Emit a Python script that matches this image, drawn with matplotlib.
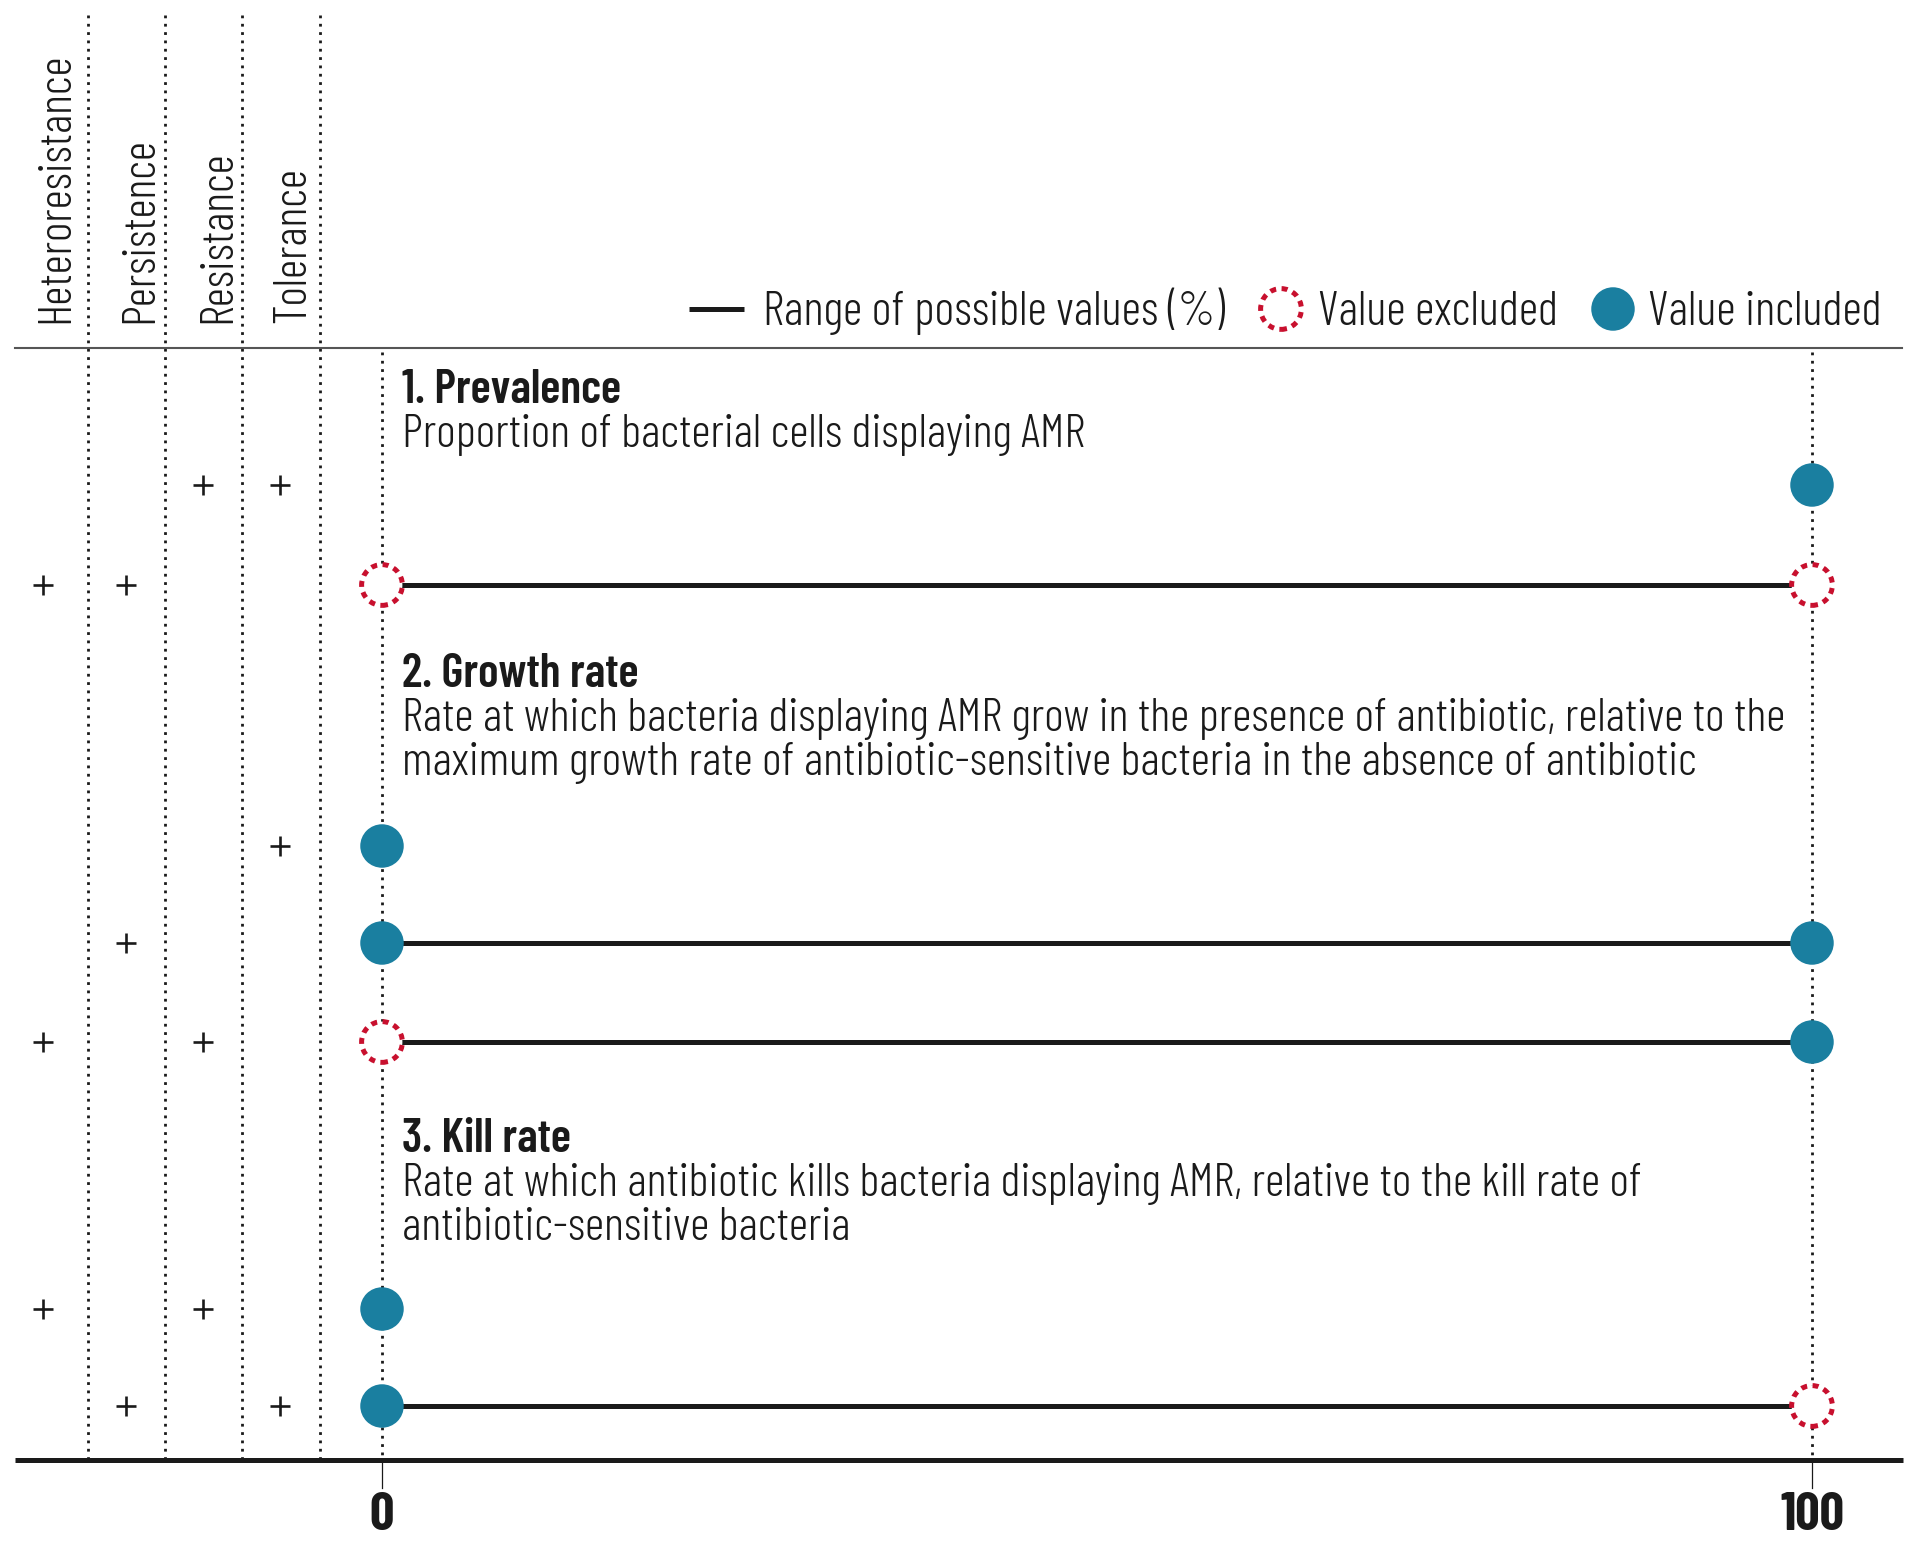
"""Measures of antimicrobial resistance (AMR) phenotypes: which values are allowed."""

import matplotlib
matplotlib.use("Agg")
import matplotlib.pyplot as plt

# ---- data -----------------------------------------------------------------
PHENOTYPES = ["Heteroresistance", "Persistence", "Resistance", "Tolerance"]

MEASURE_TITLES = ["1. Prevalence", "2. Growth rate", "3. Kill rate"]
MEASURE_LINES = [
    ["Proportion of bacterial cells displaying AMR"],
    ["Rate at which bacteria displaying AMR grow in the presence of antibiotic, relative to the",
     "maximum growth rate of antibiotic-sensitive bacteria in the absence of antibiotic"],
    ["Rate at which antibiotic kills bacteria displaying AMR, relative to the kill rate of",
     "antibiotic-sensitive bacteria"],
]

# one entry per row of the chart
ROW_LOW = [100, 0, 0, 0, 0, 0, 0]
ROW_HIGH = [100, 100, 0, 100, 100, 0, 100]
ROW_LOW_INCLUDED = [True, False, True, True, False, True, True]
ROW_HIGH_INCLUDED = [True, False, True, True, True, True, False]
ROW_PHENOTYPES = [
    ["Resistance", "Tolerance"],
    ["Heteroresistance", "Persistence"],
    ["Tolerance"],
    ["Persistence"],
    ["Heteroresistance", "Resistance"],
    ["Heteroresistance", "Resistance"],
    ["Persistence", "Tolerance"],
]

TICKS = [0, 100]
LEGEND_LABELS = ["Range of possible values (%)", "Value excluded", "Value included"]

# ---- layout (pixels of a 1920 x 1543 canvas) ---------------------------------
W, H = 1920, 1543
X0_PX, X100_PX = 382, 1812
ROW_Y = [485, 585, 846, 943, 1042, 1309, 1406]
TITLE_Y = [403, 687, 1152]
LINE_GAP = 44
TEXT_X_PX = 402
COL_EDGES_PX = [88, 165, 242, 320]
COL_PLUS_PX = [43, 126, 203, 280]
COL_LABEL_BASE_PX = [68, 152, 230, 305]
HEADER_Y = 348
AXIS_Y = 1460

BLUE = "#1a7fa0"
RED = "#c8102e"
INK = "#1a1a1a"
FONT = ["Barlow Condensed", "DejaVu Sans"]
BODY_W = 300

plt.rcParams["font.family"] = FONT


def px(p):
    """pixel column -> percent units of the value axis"""
    return (p - X0_PX) / (X100_PX - X0_PX) * 100


fig = plt.figure(figsize=(W / 100, H / 100), dpi=100)
renderer = fig.canvas.get_renderer()


def fit_size(sample, target_px, weight, base=30.0):
    """font size at which `sample` is target_px wide"""
    t = fig.text(0, 0, sample, fontsize=base, fontweight=weight)
    w = t.get_window_extent(renderer).width
    t.remove()
    return base * target_px / w


FS_BODY = fit_size(MEASURE_LINES[1][0], 1383, BODY_W)
FS_TITLE = fit_size(MEASURE_TITLES[1], 237, 600)
FS_LEG = fit_size(LEGEND_LABELS[0], 462, BODY_W)
FS_COL = fit_size(PHENOTYPES[0], 270, BODY_W)
FS_TICK = fit_size("100", 64, 700)

ax = fig.add_axes([0, 0, 1, 1])
ax.set_xlim(px(0), px(W))
ax.set_ylim(H, 0)
ax.axis("off")

DOTS = (0, (1, 2.0))
S_MARK = 980
EXCL = dict(s=S_MARK * 0.88, facecolors="white", edgecolors=RED,
            linewidths=3.6, linestyle=(0, (1.2, 1.1)))

# column separators and header
for xe in COL_EDGES_PX:
    ax.plot([px(xe)] * 2, [15, AXIS_Y], color=INK, lw=2.0, ls=DOTS, zorder=1)
for t in TICKS:
    ax.plot([t, t], [HEADER_Y + 4, AXIS_Y], color=INK, lw=2.0, ls=DOTS, zorder=1)
ax.plot([px(15), px(1902)], [HEADER_Y] * 2, color="#555555", lw=1.5, zorder=2)
ax.plot([px(15), px(1903)], [AXIS_Y] * 2, color=INK, lw=3.6, solid_capstyle="butt", zorder=2)

for name, xb in zip(PHENOTYPES, COL_LABEL_BASE_PX):
    ax.text(px(xb), 323, name, rotation=90, rotation_mode="anchor",
            ha="left", va="baseline", fontsize=FS_COL, fontweight=BODY_W, color=INK)

# measure headings
for title, lines, ty in zip(MEASURE_TITLES, MEASURE_LINES, TITLE_Y):
    ax.text(px(TEXT_X_PX), ty, title, fontsize=FS_TITLE, fontweight=600,
            va="baseline", ha="left", color=INK)
    for i, line in enumerate(lines):
        ax.text(px(TEXT_X_PX), ty + LINE_GAP * (i + 1), line, fontsize=FS_BODY,
                fontweight=BODY_W, va="baseline", ha="left", color=INK)

# rows
for y, lo, hi, lo_in, hi_in, phen in zip(ROW_Y, ROW_LOW, ROW_HIGH, ROW_LOW_INCLUDED,
                                         ROW_HIGH_INCLUDED, ROW_PHENOTYPES):
    if hi > lo:
        ax.plot([lo, hi], [y, y], color=INK, lw=3.6, solid_capstyle="butt", zorder=3)
    for v, inc in {lo: lo_in, hi: hi_in}.items():
        if inc:
            ax.scatter([v], [y], s=S_MARK, color=BLUE, edgecolors="none", zorder=4)
        else:
            ax.scatter([v], [y], zorder=4, **EXCL)
    for p in phen:
        xc = COL_PLUS_PX[PHENOTYPES.index(p)]
        ax.plot(px(xc), y, marker="+", ms=14, mew=1.9, color=INK, zorder=4)

# value axis ticks
for t in TICKS:
    ax.plot([t, t], [AXIS_Y, AXIS_Y + 28], color=INK, lw=0.9, zorder=2)
    ax.text(t, 1530, str(t), fontsize=FS_TICK, fontweight=700, ha="center",
            va="baseline", color=INK)

# legend
LEG_Y = 309
ax.plot([px(689), px(744)], [LEG_Y] * 2, color=INK, lw=3.6, solid_capstyle="butt")
ax.text(px(763), LEG_Y + 16, LEGEND_LABELS[0], fontsize=FS_LEG, fontweight=BODY_W,
        va="baseline", color=INK)
ax.scatter([px(1281)], [LEG_Y], **EXCL)
ax.text(px(1318), LEG_Y + 16, LEGEND_LABELS[1], fontsize=FS_LEG, fontweight=BODY_W,
        va="baseline", color=INK)
ax.scatter([px(1613)], [LEG_Y], s=S_MARK, color=BLUE, edgecolors="none")
ax.text(px(1648), LEG_Y + 16, LEGEND_LABELS[2], fontsize=FS_LEG, fontweight=BODY_W,
        va="baseline", color=INK)

fig.savefig("out.png", dpi=100)
